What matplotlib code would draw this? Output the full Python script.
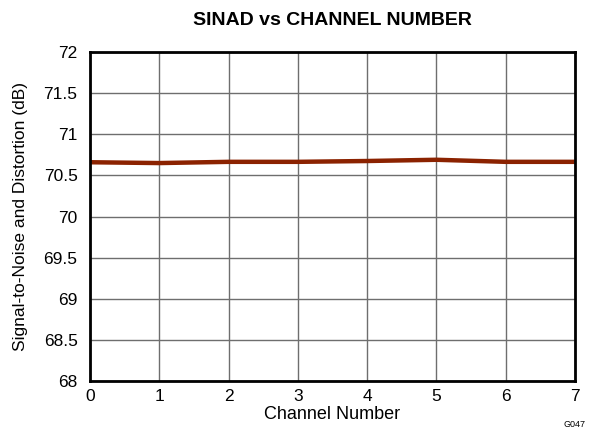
import matplotlib
matplotlib.use("Agg")
import matplotlib.pyplot as plt

plt.rcParams['font.family'] = ['Liberation Sans', 'DejaVu Sans']

channel = [0, 1, 2, 3, 4, 5, 6, 7]
sinad = [70.66, 70.65, 70.665, 70.665, 70.675, 70.69, 70.665, 70.665]

fig = plt.figure(figsize=(5.97, 4.34), dpi=100)
ax = fig.add_axes([0.1508, 0.1221, 0.8122, 0.758])

ax.plot(channel, sinad, color='#8B2200', linewidth=3.2, solid_capstyle='butt')

ax.set_xlim(0, 7)
ax.set_ylim(68, 72)
ax.set_xticks(range(0, 8))
ax.set_yticks([68, 68.5, 69, 69.5, 70, 70.5, 71, 71.5, 72])
ax.set_yticklabels(['68', '68.5', '69', '69.5', '70', '70.5', '71', '71.5', '72'])
ax.grid(True, color='#6e6e6e', linewidth=1.0)
ax.set_axisbelow(True)
ax.tick_params(axis='y', length=0, labelsize=12.5, pad=9)
ax.tick_params(axis='x', length=0, labelsize=12.5, pad=6)
for s in ax.spines.values():
    s.set_linewidth(2)
    s.set_color('black')

ax.set_xlabel('Channel Number', fontsize=13, labelpad=1)
ax.set_ylabel('Signal-to-Noise and Distortion (dB)', fontsize=12.5, labelpad=11)
fig.text(0.557, 0.952, 'SINAD vs CHANNEL NUMBER', fontsize=14,
         fontweight='bold', ha='center', va='center')
fig.text(0.98, 0.012, 'G047', fontsize=6.5, ha='right', va='bottom')

fig.savefig('out.png', dpi=100)
